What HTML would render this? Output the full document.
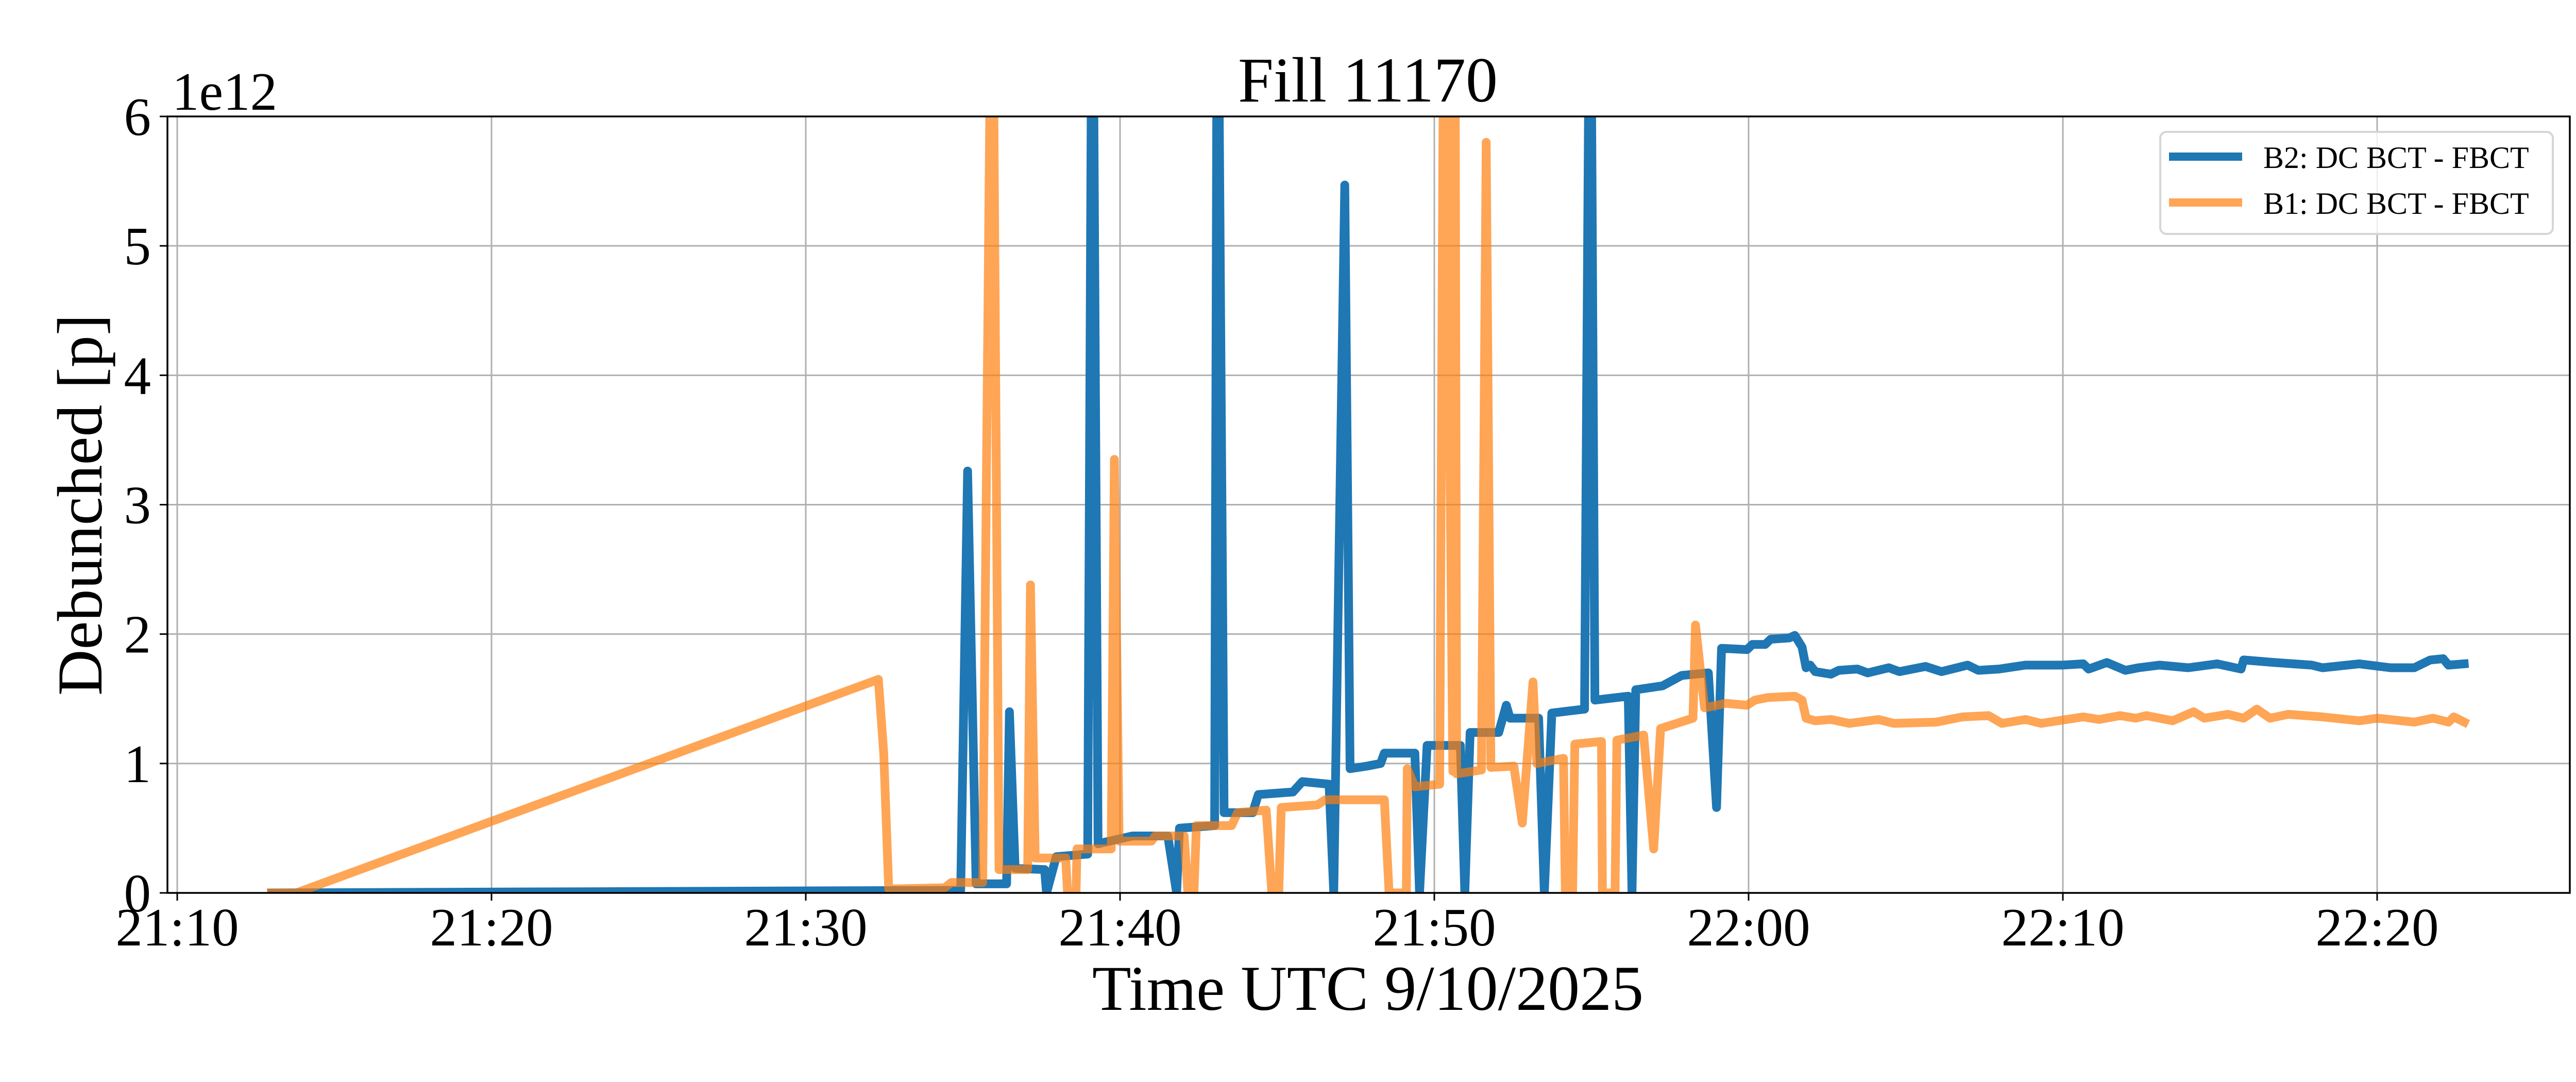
<!DOCTYPE html>
<html>
<head>
<meta charset="utf-8">
<style>
  html, body { margin: 0; padding: 0; background: #ffffff; }
  svg { display: block; }
  text { font-family: "Liberation Serif", "DejaVu Serif", serif; fill: #000; }
</style>
</head>
<body>
<svg id="chart" width="5100" height="2100" viewBox="0 0 5100 2100" xmlns="http://www.w3.org/2000/svg">
  <rect x="0" y="0" width="5100" height="2100" fill="#ffffff"/>
  <defs>
    <clipPath id="plotClip"><rect x="325" y="226" width="4663" height="1507"/></clipPath>
  </defs>
  <g id="grid"></g>
  <g id="series" clip-path="url(#plotClip)"></g>
  <g id="axes"></g>
  <text x="2655" y="197" font-size="124" text-anchor="middle">Fill 11170</text>
  <text x="2655" y="1960" font-size="124" text-anchor="middle">Time UTC 9/10/2025</text>
  <text x="0" y="0" font-size="124" text-anchor="middle" transform="translate(197,980) rotate(-90)">Debunched [p]</text>
  <text x="334" y="213" font-size="105">1e12</text>
  <g id="legend">
    <rect x="4193" y="256" width="762" height="198" rx="12" ry="12" fill="#ffffff" fill-opacity="0.8" stroke="#d6d6d6" stroke-width="4"/>
    <line x1="4210" y1="304" x2="4352" y2="304" stroke="#1f77b4" stroke-width="16"/>
    <text x="4393" y="326" font-size="60">B2: DC BCT - FBCT</text>
    <line x1="4210" y1="393" x2="4352" y2="393" stroke="#ff7f0e" stroke-opacity="0.7" stroke-width="16"/>
    <text x="4393" y="415" font-size="60">B1: DC BCT - FBCT</text>
  </g>
</svg>
<script>
// Data: time in minutes after 21:00 UTC; values in units of 1e12 protons
const xTickMinutes = [10, 20, 30, 40, 50, 60, 70, 80];
const xTickLabels = ["21:10", "21:20", "21:30", "21:40", "21:50", "22:00", "22:10", "22:20"];
const yTickValues = [0, 1, 2, 3, 4, 5, 6];
const yTickLabels = ["0", "1", "2", "3", "4", "5", "6"];

const b2Times = [13.0, 34.93, 35.15, 35.42, 36.39, 36.48, 36.66, 37.60, 37.66, 37.97, 38.97, 39.12, 39.30, 40.39, 41.52, 41.80, 41.89, 43.01, 43.10, 43.31, 44.22, 44.40, 45.5, 45.8, 46.65, 46.8, 47.15, 47.32, 47.86, 48.29, 48.41, 49.38, 49.53, 49.77, 50.83, 50.97, 51.14, 52.05, 52.29, 52.41, 53.32, 53.50, 53.74, 54.78, 54.96, 55.11, 56.17, 56.29, 56.41, 57.26, 57.87, 58.72, 58.98, 59.14, 59.95, 60.12, 60.53, 60.70, 61.29, 61.47, 61.70, 61.83, 61.96, 62.12, 62.62, 62.87, 63.46, 63.79, 64.46, 64.8, 65.63, 66.14, 66.97, 67.31, 67.97, 68.81, 69.98, 70.65, 70.82, 71.4, 71.99, 72.41, 73.07, 73.99, 74.91, 75.67, 75.75, 76.75, 77.92, 78.26, 79.43, 80.43, 81.18, 81.69, 82.10, 82.27, 82.77];
const b2Values = [0, 0.02, 3.26, 0.07, 0.07, 1.40, 0.19, 0.18, 0, 0.28, 0.30, 8, 0.38, 0.44, 0.44, 0, 0.50, 0.52, 8, 0.62, 0.62, 0.76, 0.78, 0.86, 0.84, 0, 5.47, 0.96, 0.98, 1.0, 1.08, 1.08, 0, 1.14, 1.14, 0, 1.24, 1.24, 1.45, 1.35, 1.35, 0, 1.39, 1.42, 8, 1.49, 1.52, 0, 1.57, 1.60, 1.68, 1.70, 0.66, 1.89, 1.88, 1.92, 1.92, 1.96, 1.97, 1.99, 1.90, 1.74, 1.76, 1.71, 1.69, 1.72, 1.73, 1.70, 1.74, 1.71, 1.75, 1.71, 1.76, 1.72, 1.73, 1.76, 1.76, 1.77, 1.73, 1.78, 1.72, 1.74, 1.76, 1.74, 1.77, 1.73, 1.80, 1.78, 1.76, 1.74, 1.77, 1.74, 1.74, 1.80, 1.81, 1.76, 1.77];

const b1Times = [13.0, 13.79, 32.31, 32.48, 32.64, 34.42, 34.63, 35.63, 35.93, 36.15, 37.06, 37.15, 37.30, 38.27, 38.33, 38.60, 38.63, 39.72, 39.82, 39.97, 41.0, 41.12, 42.04, 42.16, 42.35, 42.43, 43.55, 43.74, 44.65, 44.83, 45.05, 45.13, 46.28, 46.53, 48.41, 48.56, 49.11, 49.14, 49.38, 50.17, 50.32, 50.59, 50.65, 50.71, 51.5, 51.65, 51.80, 52.53, 52.80, 53.14, 53.26, 54.11, 54.17, 54.40, 54.47, 55.32, 55.35, 55.75, 55.81, 56.66, 56.98, 57.20, 58.23, 58.31, 58.60, 59.28, 59.95, 60.2, 60.62, 61.47, 61.70, 61.83, 62.12, 62.62, 63.21, 64.13, 64.63, 65.97, 66.8, 67.64, 68.06, 68.81, 69.31, 70.65, 71.15, 71.82, 72.32, 72.66, 73.49, 74.16, 74.50, 75.25, 75.75, 76.17, 76.59, 77.17, 78.26, 79.43, 80.01, 81.18, 81.77, 82.27, 82.44, 82.77];
const b1Values = [0, 0, 1.65, 1.08, 0.03, 0.04, 0.08, 0.08, 8, 0.18, 0.18, 2.38, 0.27, 0.27, 0, 0, 0.34, 0.34, 3.35, 0.40, 0.40, 0.44, 0.44, 0, 0, 0.52, 0.52, 0.62, 0.64, 0, 0, 0.66, 0.68, 0.72, 0.72, 0, 0, 0.96, 0.82, 0.84, 8, 0.94, 8, 0.92, 0.95, 5.80, 0.97, 0.98, 0.54, 1.63, 1.0, 1.04, 0, 0, 1.15, 1.17, 0, 0, 1.18, 1.22, 0.34, 1.27, 1.35, 2.07, 1.43, 1.465, 1.45, 1.49, 1.51, 1.52, 1.49, 1.35, 1.33, 1.34, 1.31, 1.34, 1.31, 1.32, 1.36, 1.37, 1.31, 1.34, 1.31, 1.36, 1.34, 1.37, 1.35, 1.37, 1.33, 1.40, 1.35, 1.38, 1.35, 1.42, 1.35, 1.38, 1.36, 1.33, 1.35, 1.32, 1.35, 1.32, 1.36, 1.32];

const NS = "http://www.w3.org/2000/svg";
const plotLeft = 325, plotRight = 4988, plotTop = 226, plotBottom = 1733;
function xScale(t) { return 344 + (t - 10) * 61.0; }
function yScale(v) { return plotBottom - v * (plotBottom - plotTop) / 6; }

const grid = document.getElementById('grid');
const axes = document.getElementById('axes');
const series = document.getElementById('series');

function mk(tag, attrs) {
  const e = document.createElementNS(NS, tag);
  for (const k in attrs) e.setAttribute(k, attrs[k]);
  return e;
}

xTickMinutes.forEach((m, i) => {
  const x = xScale(m);
  const g = mk('line', {x1: x, y1: plotTop, x2: x, y2: plotBottom, stroke: '#b0b0b0', 'stroke-width': 3});
  
  
  grid.appendChild(g);
  const t = mk('line', {x1: x, y1: plotBottom, x2: x, y2: plotBottom + 15, stroke: '#000', 'stroke-width': 3});
  
  
  axes.appendChild(t);
  const lbl = mk('text', {x: x, y: 1835, 'font-size': 105, 'text-anchor': 'middle'});
  lbl.textContent = xTickLabels[i];
  
  
  axes.appendChild(lbl);
});

yTickValues.forEach((v, i) => {
  const y = yScale(v);
  const g = mk('line', {x1: plotLeft, y1: y, x2: plotRight, y2: y, stroke: '#b0b0b0', 'stroke-width': 3});
  
  
  grid.appendChild(g);
  const t = mk('line', {x1: plotLeft - 15, y1: y, x2: plotLeft, y2: y, stroke: '#000', 'stroke-width': 3});
  
  
  axes.appendChild(t);
  const lbl = mk('text', {x: 293, y: y + 36, 'font-size': 105, 'text-anchor': 'end'});
  lbl.textContent = yTickLabels[i];
  
  
  axes.appendChild(lbl);
});

const frame = mk('rect', {x: plotLeft, y: plotTop, width: plotRight - plotLeft, height: plotBottom - plotTop, fill: 'none', stroke: '#000', 'stroke-width': 3.5});


axes.appendChild(frame);

function pathFrom(ts, vs) {
  let d = '';
  for (let i = 0; i < ts.length; i++) {
    d += (i ? 'L' : 'M') + xScale(ts[i]).toFixed(1) + ' ' + yScale(vs[i]).toFixed(1);
  }
  return d;
}

const b2 = mk('path', {d: pathFrom(b2Times, b2Values), fill: 'none', stroke: '#1f77b4', 'stroke-width': 17, 'stroke-linejoin': 'round', 'stroke-linecap': 'square'});


series.appendChild(b2);

const b1 = mk('path', {d: pathFrom(b1Times, b1Values), fill: 'none', stroke: '#ff7f0e', 'stroke-opacity': 0.7, 'stroke-width': 17, 'stroke-linejoin': 'round', 'stroke-linecap': 'square'});


series.appendChild(b1);
</script>
</body>
</html>
